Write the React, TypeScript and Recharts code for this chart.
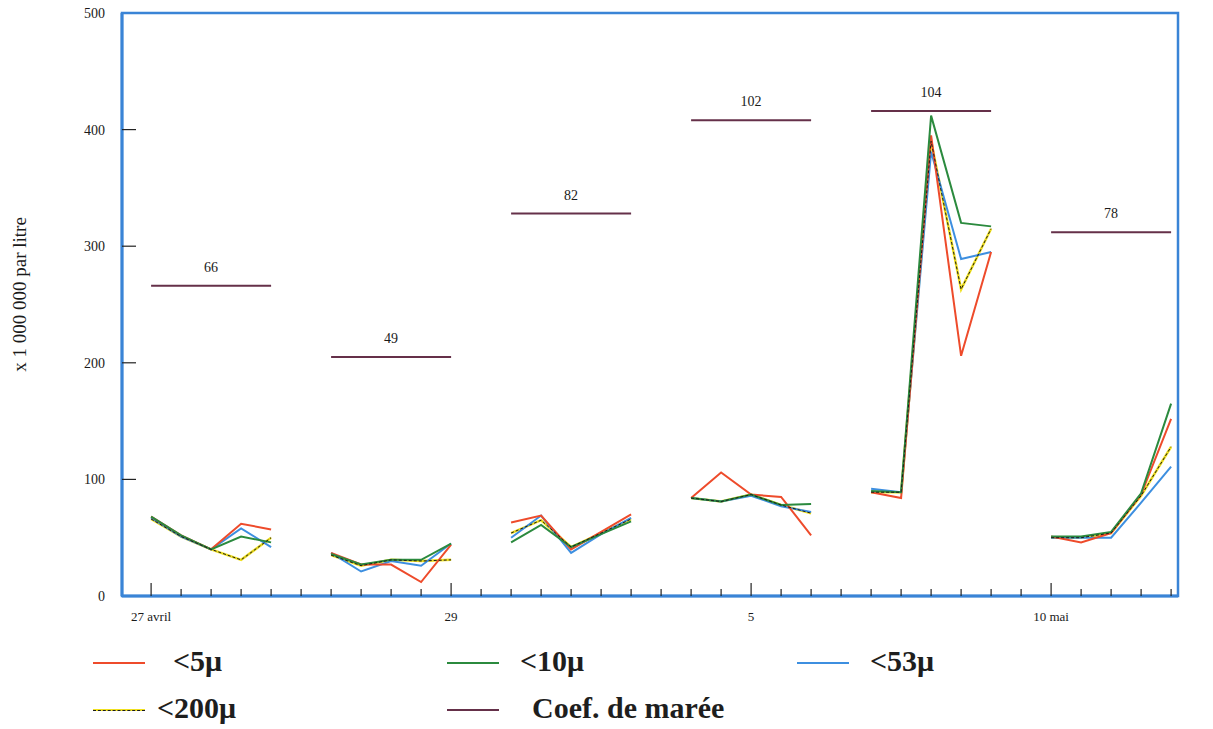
import React from 'react'
import { LabelList, Line, LineChart, ReferenceArea, XAxis, YAxis } from 'recharts'

// sampling steps along the x axis (5 samples per tide period, gap between periods)
const steps = [
  0, 1, 2, 3, 4, 5, 6, 7, 8, 9, 10, 11, 12, 13, 14, 15, 16, 17,
  18, 19, 20, 21, 22, 23, 24, 25, 26, 27, 28, 29, 30, 31, 32, 33, 34,
]
const dateTicks = [0, 10, 20, 30]
const dateLabels = ['27 avril', '29', '5', '10 mai']
const yTicks = [0, 100, 200, 300, 400, 500]

// x 1 000 000 par litre
const under5 = [
  68, 52, 40, 62, 57, null, 37, 27, 27, 12, 44, null, 63, 69, 40, 55, 70, null,
  84, 106, 87, 85, 52, null, 89, 84, 395, 206, 295, null, 51, 46, 54, 87, 152,
]
const under10 = [
  68, 52, 40, 51, 46, null, 36, 27, 31, 31, 45, null, 46, 61, 42, 53, 64, null,
  84, 81, 87, 78, 79, null, 90, 89, 412, 320, 317, null, 51, 51, 55, 88, 165,
]
const under53 = [
  67, 51, 40, 58, 42, null, 37, 21, 30, 26, 45, null, 50, 69, 37, 53, 67, null,
  84, 81, 86, 77, 72, null, 92, 89, 381, 289, 295, null, 50, 50, 50, 80, 111,
]
const under200 = [
  66, 51, 40, 31, 50, null, 35, 26, 31, 30, 31, null, 54, 65, 42, 54, 66, null,
  84, 81, 87, 78, 71, null, 89, 89, 390, 263, 315, null, 50, 50, 54, 86, 128,
]

// tide coefficient, drawn as a level bar over each sampling period
const coefValues = [66, 49, 82, 102, 104, 78]
const coefLevels = [266, 205, 328, 408, 416, 312]
const coefStarts = [0, 6, 12, 18, 24, 30]

const RED = '#ee4b2b'
const GREEN = '#2b8a3e'
const BLUE = '#3d8fe0'
const YELLOW = '#f0e020'
const COEF = '#653049'
const FRAME = '#3a84d6'
const SERIF = '"Liberation Serif", "DejaVu Serif", serif'

const data = steps.map((s, i) => {
  const g = coefStarts.findIndex((st) => s >= st && s <= st + 4)
  return {
    s,
    r5: under5[i],
    r10: under10[i],
    r53: under53[i],
    r200: under200[i],
    coef: g >= 0 ? coefLevels[g] : null,
    coefLabel: g >= 0 && s === coefStarts[g] + 2 ? coefValues[g] : null,
  }
})

const XTick = ({ x, y, payload }: any) => {
  const k = dateTicks.indexOf(payload.value)
  const major = k >= 0
  return (
    <g>
      <line x1={x} x2={x} y1={y} y2={y - (major ? 13 : 7)} stroke="#222" strokeWidth={1.2} />
      {major && (
        <text x={x} y={y + 25} textAnchor="middle" fontSize={13} fontFamily={SERIF} fill="#1a1a1a">
          {dateLabels[k]}
        </text>
      )}
    </g>
  )
}

const YTick = ({ x, y, payload }: any) => (
  <g>
    <text x={x} y={y + 5} textAnchor="end" fontSize={14} fontFamily={SERIF} fill="#1a1a1a">
      {payload.value}
    </text>
    {payload.value > 0 && payload.value < 500 && (
      <line x1={x + 17} x2={x + 31} y1={y} y2={y} stroke="#222" strokeWidth={1.2} />
    )}
  </g>
)

const legendItems = [
  { label: '<5μ', color: RED, lx: 93, tx: 173, row: 0 },
  { label: '<10μ', color: GREEN, lx: 447, tx: 520, row: 0 },
  { label: '<53μ', color: BLUE, lx: 797, tx: 870, row: 0 },
  { label: '<200μ', color: YELLOW, lx: 93, tx: 157, row: 1, dashed: true },
  { label: 'Coef. de marée', color: COEF, lx: 447, tx: 532, row: 1 },
]

export default function App() {
  return (
    <div style={{ position: 'fixed', left: 0, top: 0, width: 1213, height: 729, background: '#fff' }}>
      <LineChart width={1213} height={729} data={data} margin={{ top: 13, right: 35, left: 12, bottom: 103 }}>
        <XAxis
          dataKey="s"
          type="number"
          domain={[-0.97, 34.23]}
          ticks={steps}
          interval={0}
          allowDataOverflow
          height={30}
          tickSize={0}
          tickMargin={0}
          tickLine={false}
          axisLine={{ stroke: FRAME, strokeWidth: 3 }}
          tick={<XTick />}
        />
        <YAxis
          type="number"
          domain={[0, 500]}
          ticks={yTicks}
          interval={0}
          width={110}
          tickSize={0}
          tickMargin={17}
          tickLine={false}
          axisLine={{ stroke: FRAME, strokeWidth: 3 }}
          tick={<YTick />}
          label={{
            content: ({ viewBox }: any) => {
              const cx = viewBox.x + 10
              const cy = viewBox.y + viewBox.height / 2 - 10
              return (
                <text x={cx} y={cy} transform={`rotate(-90 ${cx} ${cy})`} textAnchor="middle" dominantBaseline="middle" fontSize={19} fontFamily={SERIF} fill="#1a1a1a">
                  x 1 000 000 par litre
                </text>
              )
            },
          }}
        />
        <ReferenceArea x1={-0.97} x2={34.23} y1={0} y2={500} fill="none" stroke={FRAME} strokeWidth={2.5} ifOverflow="visible" />
        <Line dataKey="coef" stroke={COEF} strokeWidth={2} dot={false} isAnimationActive={false}>
          <LabelList dataKey="coefLabel" position="top" offset={14} fill="#1a1a1a" fontSize={14} fontFamily={SERIF} />
        </Line>
        <Line dataKey="r200" stroke={YELLOW} strokeWidth={2.5} dot={false} isAnimationActive={false} />
        <Line dataKey="r53" stroke={BLUE} strokeWidth={2} dot={false} isAnimationActive={false} />
        <Line dataKey="r5" stroke={RED} strokeWidth={2} dot={false} isAnimationActive={false} />
        <Line dataKey="r10" stroke={GREEN} strokeWidth={2} dot={false} isAnimationActive={false} />
        <Line dataKey="r200" stroke="#1a1a1a" strokeWidth={1} strokeDasharray="3 2" dot={false} isAnimationActive={false} />
      </LineChart>
      {legendItems.map((it) => {
        const cy = it.row === 0 ? 663 : 710
        return (
          <React.Fragment key={it.label}>
            <div style={{ position: 'absolute', left: it.lx, top: cy - 1, width: 52, height: 2, background: it.color }} />
            {it.dashed && (
              <div style={{ position: 'absolute', left: it.lx, top: cy, width: 52, height: 0, borderTop: '1px dashed #1a1a1a' }} />
            )}
            <div
              style={{
                position: 'absolute',
                left: it.tx,
                top: cy - 17,
                fontFamily: SERIF,
                fontWeight: 'bold',
                fontSize: 30,
                lineHeight: '30px',
                color: '#1e1e1e',
                whiteSpace: 'nowrap',
              }}
            >
              {it.label}
            </div>
          </React.Fragment>
        )
      })}
    </div>
  )
}
